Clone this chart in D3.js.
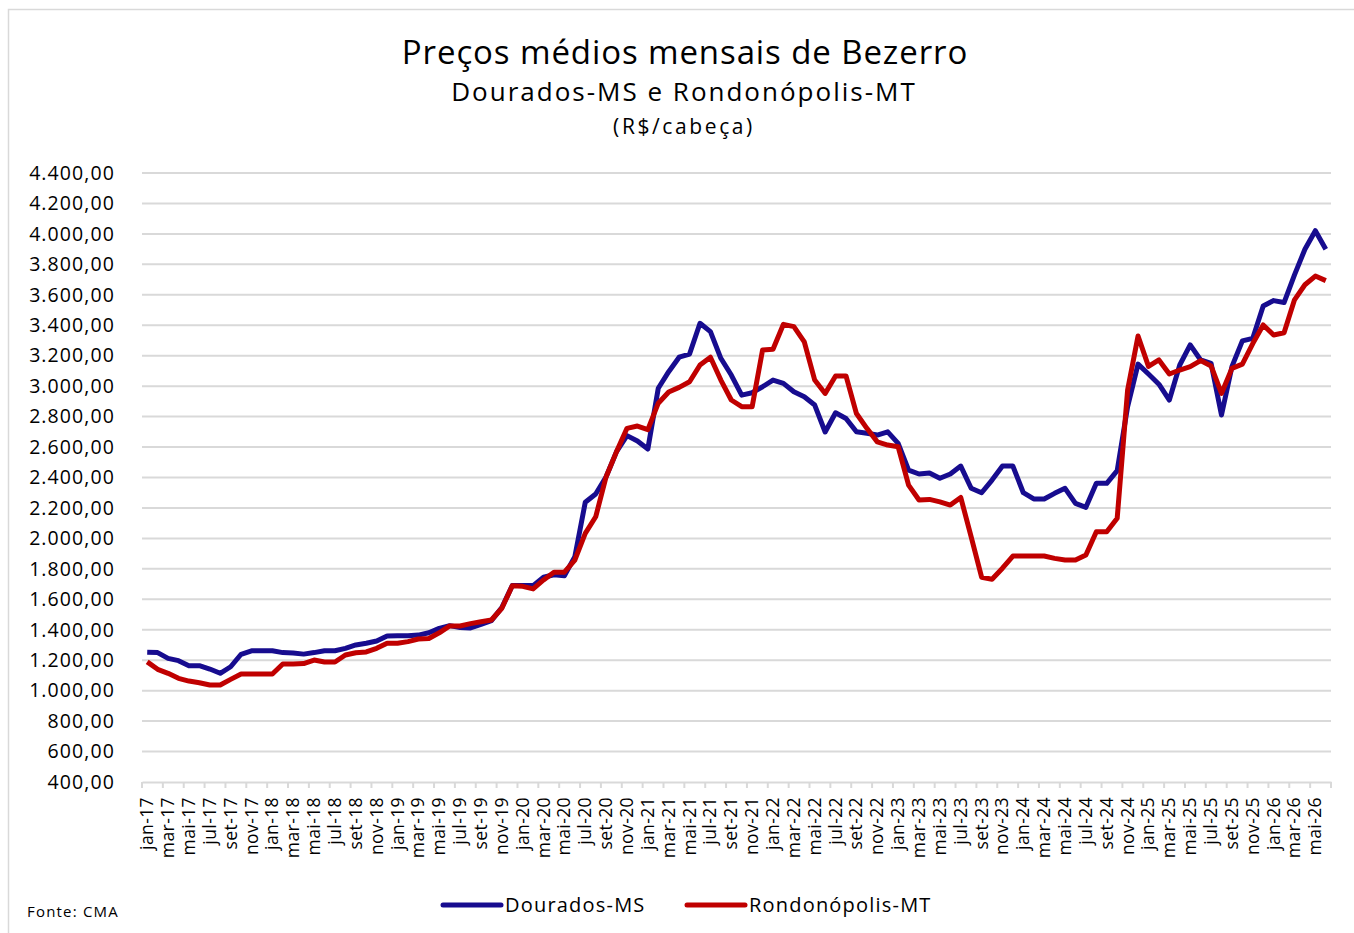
<!DOCTYPE html>
<html>
<head>
<meta charset="utf-8">
<script src="https://cdn.jsdelivr.net/npm/d3@7"></script>
<style>
  body { margin: 0; background: #fff; }
  svg { font-family: 'Open Sans', sans-serif; }
</style>
</head>
<body>
<svg></svg>
<script>
// Data
const monthNames = ['jan', 'fev', 'mar', 'abr', 'mai', 'jun', 'jul', 'ago', 'set', 'out', 'nov', 'dez']
const years = ['17', '18', '19', '20', '21', '22', '23', '24', '25', '26']
const months = []
years.forEach(y => monthNames.forEach(m => months.push(m + '-' + y)))
months.splice(114)

const dourados = [
  1252, 1250, 1212, 1197, 1164, 1164, 1142, 1114, 1157, 1239, 1262, 1262,
  1262, 1250, 1248, 1240, 1250, 1262, 1262, 1278, 1300, 1311, 1326, 1359,
  1361, 1361, 1365, 1380, 1409, 1427, 1415, 1412, 1435, 1460, 1545, 1690,
  1690, 1690, 1745, 1761, 1755, 1880, 2237, 2292, 2405, 2570, 2675, 2640,
  2587, 2986, 3095, 3190, 3211, 3413, 3358, 3183, 3073, 2941, 2957, 2996,
  3040, 3018, 2963, 2930, 2876, 2699, 2825, 2788, 2700, 2690, 2679, 2700,
  2624, 2449, 2423, 2430, 2395, 2423, 2475, 2329, 2300, 2383, 2475, 2475,
  2300, 2259, 2259, 2296, 2329, 2230, 2204, 2362, 2362, 2445, 2865, 3145,
  3080, 3013, 2909, 3139, 3271, 3172, 3150, 2810, 3128, 3297, 3314, 3526,
  3562, 3549, 3731, 3899, 4021, 3899
]
const rondonopolis = [
  1189, 1140, 1114, 1081, 1063, 1052, 1037, 1037, 1074, 1109, 1109, 1109,
  1109, 1175, 1175, 1178, 1201, 1188, 1188, 1234, 1249, 1254, 1278, 1311,
  1311, 1322, 1339, 1343, 1380, 1425, 1425, 1440, 1453, 1464, 1541, 1689,
  1685, 1668, 1727, 1778, 1778, 1858, 2033, 2142, 2405, 2570, 2723, 2738,
  2714, 2888, 2962, 2992, 3029, 3139, 3190, 3040, 2909, 2865, 2865, 3238,
  3242, 3406, 3391, 3291, 3040, 2952, 3067, 3067, 2820, 2723, 2634, 2613,
  2602, 2350, 2252, 2256, 2240, 2219, 2269, 2010, 1745, 1732, 1804, 1884,
  1884, 1884, 1884, 1869, 1858, 1858, 1891, 2044, 2044, 2132, 2975, 3329,
  3130, 3172, 3080, 3106, 3128, 3168, 3133, 2952, 3117, 3145, 3280, 3402,
  3336, 3351, 3567, 3666, 3723, 3693
]
const yTicks = [400, 600, 800, 1000, 1200, 1400, 1600, 1800, 2000, 2200, 2400,
  2600, 2800, 3000, 3200, 3400, 3600, 3800, 4000, 4200, 4400]
const seriesNames = ['Dourados-MS', 'Rondonópolis-MT']
const colors = ['#170c8f', '#c00000']

const width = 1354
const height = 933
const svg = d3.select('svg').attr('width', width).attr('height', height)

// chart border
svg.append('rect')
  .attr('x', 8.5).attr('y', 9.5)
  .attr('width', width + 20).attr('height', height + 20)
  .attr('fill', 'none').attr('stroke', '#d9d9d9').attr('stroke-width', 1.5)

// titles
svg.append('text').attr('x', 685).attr('y', 64).attr('text-anchor', 'middle')
  .attr('font-size', 33).attr('letter-spacing', 0.9).attr('fill', '#000').text('Preços médios mensais de Bezerro')
svg.append('text').attr('x', 684).attr('y', 101).attr('text-anchor', 'middle')
  .attr('font-size', 26).attr('letter-spacing', 2).attr('fill', '#000').text('Dourados-MS e Rondonópolis-MT')
svg.append('text').attr('x', 684).attr('y', 134).attr('text-anchor', 'middle')
  .attr('font-size', 21).attr('letter-spacing', 2.6).attr('fill', '#000').text('(R$/cabeça)')

// scales
const plotLeft = 142, plotRight = 1331, plotTop = 173, plotBottom = 782
const x = d3.scaleBand().domain(months).range([plotLeft, plotRight]).padding(0)
const y = d3.scaleLinear().domain([400, 4400]).range([plotBottom, plotTop])

// gridlines
svg.append('g').selectAll('line').data(yTicks.slice(1)).enter().append('line')
  .attr('x1', plotLeft).attr('x2', plotRight)
  .attr('y1', d => y(d)).attr('y2', d => y(d))
  .attr('stroke', '#d9d9d9').attr('stroke-width', 2)

// y axis labels
const fmt = d3.formatLocale({ decimal: ',', thousands: '.', grouping: [3], currency: ['R$', ''] }).format(',.2f')
const yAxis = d3.axisLeft(y).tickValues(yTicks).tickFormat(fmt).tickSize(0).tickPadding(0)
const gy = svg.append('g').attr('transform', 'translate(115,0)').call(yAxis)
gy.select('.domain').remove()
gy.selectAll('text').attr('font-size', 19.5).attr('letter-spacing', 1.1)
  .attr('font-family', "'Open Sans', sans-serif").attr('fill', '#000')

// x axis
const labelCats = months.filter((d, i) => i % 2 === 0)
const xAxis = d3.axisBottom(x).tickValues(labelCats).tickSize(0).tickPadding(0)
const gx = svg.append('g').attr('transform', `translate(0,${plotBottom})`).call(xAxis)
gx.select('.domain').attr('stroke', '#d9d9d9').attr('stroke-width', 2)
gx.selectAll('text')
  .attr('font-size', 17.5).attr('letter-spacing', 0.4)
  .attr('font-family', "'Open Sans', sans-serif").attr('fill', '#000')
  .attr('text-anchor', 'end')
  .attr('transform', 'translate(6,15) rotate(-90)')
  .attr('dy', '0').attr('y', 0)
// tick marks at category boundaries
const tickPos = labelCats.map(c => x(c)).concat([plotRight])
svg.append('g').selectAll('line').data(tickPos).enter().append('line')
  .attr('x1', d => d).attr('x2', d => d)
  .attr('y1', plotBottom).attr('y2', plotBottom + 6)
  .attr('stroke', '#d9d9d9').attr('stroke-width', 2)

// lines
const line = d3.line()
  .x((d, i) => x(months[i]) + x.bandwidth() / 2)
  .y(d => y(d))
const allSeries = [dourados, rondonopolis]
allSeries.forEach((s, k) => {
  svg.append('path').datum(s)
    .attr('d', line)
    .attr('fill', 'none')
    .attr('stroke', colors[k])
    .attr('stroke-width', 5)
    .attr('stroke-linejoin', 'round')
})

// legend
const legendItems = [
  { x1: 443, x2: 501, tx: 505 },
  { x1: 687, x2: 745, tx: 749 }
]
legendItems.forEach((l, k) => {
  svg.append('line').attr('x1', l.x1).attr('x2', l.x2).attr('y1', 905).attr('y2', 905)
    .attr('stroke', colors[k]).attr('stroke-width', 5).attr('stroke-linecap', 'round')
  svg.append('text').attr('x', l.tx).attr('y', 912).attr('font-size', 20)
    .attr('letter-spacing', 1.2).attr('fill', '#000').text(seriesNames[k])
})

svg.append('text').attr('x', 27).attr('y', 917).attr('font-size', 15)
  .attr('letter-spacing', 1.2).attr('fill', '#000').text('Fonte: CMA')
</script>
</body>
</html>
